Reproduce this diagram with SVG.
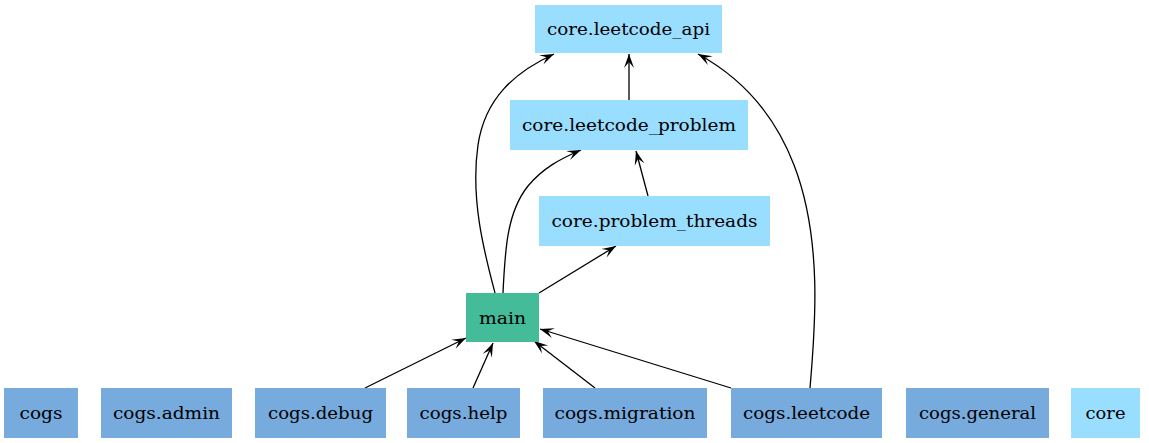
<svg xmlns="http://www.w3.org/2000/svg" width="1149" height="443" viewBox="0 0 1149 443">
<style>
.core rect{fill:#99DDFF}
.cogs rect{fill:#77AADD}
.mainn rect{fill:#44BB99}
text{font-family:"DejaVu Serif","Liberation Serif",serif;font-size:17px;fill:#000;text-anchor:middle}
.edge{fill:none;stroke:#000;stroke-width:1.3;marker-end:url(#vee)}
</style>
<defs>
<marker id="vee" markerUnits="userSpaceOnUse" markerWidth="16" markerHeight="14" refX="14" refY="5" orient="auto" overflow="visible">
<path d="M0,0 L14,5 L0,10 L6,5 Z" fill="#000"/>
</marker>
</defs>
<rect width="1149" height="443" fill="#fff"/>
<g id="edges">
<path class="edge" d="M629,100 L629,54"/>
<path class="edge" d="M648,196 L636,151"/>
<path class="edge" d="M539,293 L616,246"/>
<path class="edge" d="M495,293 C485,255 470,200 478,145 C485,98 515,72 554,54"/>
<path class="edge" d="M503,293 C505,250 507,212 528,186 C543,168 560,159 581,150"/>
<path class="edge" d="M810,388 C815,330 823,240 794,165 C774,113 742,78 698,54"/>
<path class="edge" d="M365,388 L466,338"/>
<path class="edge" d="M473,388 L493,343"/>
<path class="edge" d="M595,388 L534,341"/>
<path class="edge" d="M731,388 L540,329"/>
</g>
<g id="core.leetcode_api" class="core"><rect x="535" y="5" width="187" height="48"/><text x="628.5" y="35" textLength="163" lengthAdjust="spacingAndGlyphs">core.leetcode_api</text></g>
<g id="core.leetcode_problem" class="core"><rect x="510" y="100" width="238" height="50"/><text x="629" y="131" textLength="214" lengthAdjust="spacingAndGlyphs">core.leetcode_problem</text></g>
<g id="core.problem_threads" class="core"><rect x="539" y="196" width="231" height="50"/><text x="654.5" y="227" textLength="206" lengthAdjust="spacingAndGlyphs">core.problem_threads</text></g>
<g id="main" class="mainn"><rect x="466" y="293" width="73" height="49"/><text x="502.5" y="323.5" textLength="47" lengthAdjust="spacingAndGlyphs">main</text></g>
<g id="cogs" class="cogs"><rect x="4" y="388" width="74" height="50"/><text x="41" y="419" textLength="43" lengthAdjust="spacingAndGlyphs">cogs</text></g>
<g id="cogs.admin" class="cogs"><rect x="101" y="388" width="131" height="50"/><text x="166.5" y="419" textLength="107" lengthAdjust="spacingAndGlyphs">cogs.admin</text></g>
<g id="cogs.debug" class="cogs"><rect x="255" y="388" width="131" height="50"/><text x="320.5" y="419" textLength="105" lengthAdjust="spacingAndGlyphs">cogs.debug</text></g>
<g id="cogs.help" class="cogs"><rect x="407" y="388" width="113" height="50"/><text x="463.5" y="419" textLength="88" lengthAdjust="spacingAndGlyphs">cogs.help</text></g>
<g id="cogs.migration" class="cogs"><rect x="543" y="388" width="164" height="50"/><text x="625" y="419" textLength="141" lengthAdjust="spacingAndGlyphs">cogs.migration</text></g>
<g id="cogs.leetcode" class="cogs"><rect x="731" y="388" width="151" height="50"/><text x="806.5" y="419" textLength="127" lengthAdjust="spacingAndGlyphs">cogs.leetcode</text></g>
<g id="cogs.general" class="cogs"><rect x="906" y="388" width="143" height="50"/><text x="977.5" y="419" textLength="117" lengthAdjust="spacingAndGlyphs">cogs.general</text></g>
<g id="core" class="core"><rect x="1071" y="388" width="69" height="50"/><text x="1105.5" y="419" textLength="40" lengthAdjust="spacingAndGlyphs">core</text></g>
</svg>
